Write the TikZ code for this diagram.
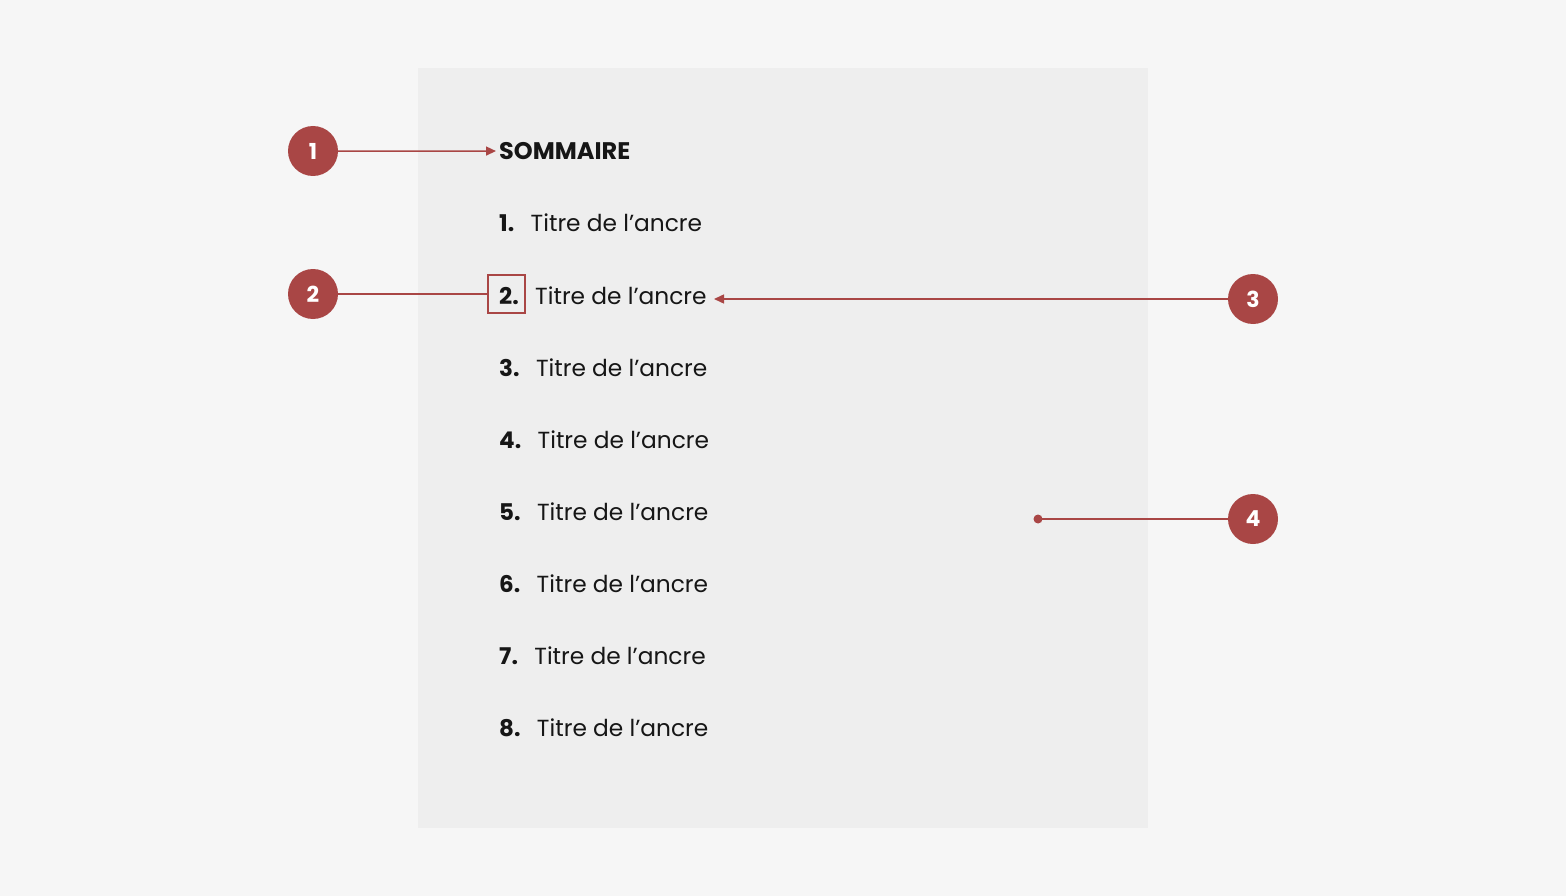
\documentclass[tikz,border=0pt]{standalone}
\usepackage{fontspec}
\setmainfont{Poppins}
\usepackage{tikz}
\usetikzlibrary{positioning,arrows.meta}
\definecolor{pagebg}{HTML}{F6F6F6}
\definecolor{panelbg}{HTML}{EEEEEE}
\definecolor{marker}{HTML}{A94645}
\definecolor{ink}{HTML}{161616}
\tikzstyle{callout} = [circle, fill=marker, minimum size=50pt, inner sep=0pt,
    text=white, font=\fontsize{22}{22}\selectfont\bfseries]
\tikzstyle{num} = [inner sep=0pt, text=ink, font=\fontsize{23}{26}\selectfont\bfseries]
\tikzstyle{entry} = [inner sep=0pt, text=ink, font=\fontsize{23.3}{26}\selectfont]
\tikzstyle{pointer} = [draw=marker, line width=1.5pt, -{Triangle[length=10pt,width=9pt]}]
\tikzstyle{link} = [draw=marker, line width=1.5pt]
\begin{document}
\begin{tikzpicture}[x=1pt, y=-1pt, node distance = 16pt]
      % background and panel
      \fill [pagebg] (0,0) rectangle (1566,896);
      \fill [panelbg] (418,68) rectangle (1148,828);
      \useasboundingbox (0,0) rectangle (1566,896);
      % title
      \node [num, anchor=base west, font=\fontsize{24}{26}\selectfont\bfseries] (title) at (499,159.5) {SOMMAIRE};
      % entries
      \node [num, anchor=base west] (n1) at (499,232) {1.};
      \node [entry, base right= of n1] (t1) {Titre de l’ancre};
      \node [num, anchor=base west] (n2) at (499,304) {2.};
      \node [entry, base right= of n2] (t2) {Titre de l’ancre};
      \node [num, anchor=base west] (n3) at (499,376) {3.};
      \node [entry, base right= of n3] (t3) {Titre de l’ancre};
      \node [num, anchor=base west] (n4) at (499,448) {4.};
      \node [entry, base right= of n4] (t4) {Titre de l’ancre};
      \node [num, anchor=base west] (n5) at (499,520) {5.};
      \node [entry, base right= of n5] (t5) {Titre de l’ancre};
      \node [num, anchor=base west] (n6) at (499,592) {6.};
      \node [entry, base right= of n6] (t6) {Titre de l’ancre};
      \node [num, anchor=base west] (n7) at (499,664) {7.};
      \node [entry, base right= of n7] (t7) {Titre de l’ancre};
      \node [num, anchor=base west] (n8) at (499,736) {8.};
      \node [entry, base right= of n8] (t8) {Titre de l’ancre};
      % frame round the second number
      \node [draw=marker, line width=1.5pt, minimum width=37pt, minimum height=38pt] (frame) at (506.5,294) {};
      % callouts
      \node [callout] (c1) at (313,151) {1};
      \node [callout] (c2) at (313,294) {2};
      \node [callout] (c3) at (1253,299) {3};
      \node [callout] (c4) at (1253,519) {4};
      \coordinate (dot) at (1038,519);
      \coordinate (t2end) at (714,299);
      \coordinate (titletip) at ([xshift=-3pt]title.west);
      % Draw edges
      \path [pointer] (c1) -- (titletip);
      \path [link] (c2) -- (frame);
      \path [pointer] (c3) -- (t2end);
      \path [link] (c4) -- (dot);
      \fill [marker] (dot) circle (4.5pt);
  \end{tikzpicture}
\end{document}
